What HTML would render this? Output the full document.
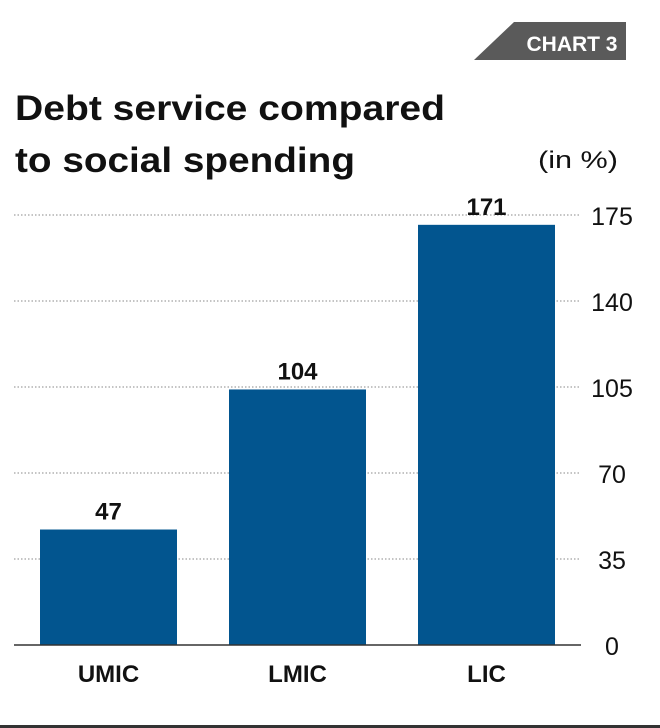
<!DOCTYPE html>
<html><head><meta charset="utf-8"><style>
html,body{margin:0;padding:0;background:#fff;}
svg{display:block;font-family:"Liberation Sans",sans-serif;}
</style></head><body>
<svg id="chart" width="660" height="728" viewBox="0 0 660 728">
  <polygon points="474,60 514,22 626,22 626,60" fill="#5a5a5a"/>
  <text x="572" y="51" fill="#fff" font-size="21" font-weight="bold" text-anchor="middle">CHART 3</text>
  <text x="15" y="120" font-size="35" font-weight="bold" fill="#111" textLength="430" lengthAdjust="spacingAndGlyphs">Debt service compared</text>
  <text x="15" y="172" font-size="35" font-weight="bold" fill="#111" textLength="340" lengthAdjust="spacingAndGlyphs">to social spending</text>
  <text x="538" y="168" font-size="24" fill="#111" textLength="80" lengthAdjust="spacingAndGlyphs">(in %)</text>
  <g id="grid"></g>
  <g id="bars"></g>
  <line x1="14" y1="645" x2="581" y2="645" stroke="#333" stroke-width="1.5"/>
  <rect x="0" y="725" width="660" height="3" fill="#333"/>
</svg>
<script>
const categories = ["UMIC","LMIC","LIC"];
const values = [47,104,171];
const ticks = [0,35,70,105,140,175];
const NS="http://www.w3.org/2000/svg";
const y0=645, yTop=215, vMax=175;
function y(v){return y0-(v/vMax)*(y0-yTop);}
const barX0=40, barStep=189, barW=137;
function x(i){return barX0+i*barStep;}
function mk(tag,attrs,parent){const e=document.createElementNS(NS,tag);for(const k in attrs)e.setAttribute(k,attrs[k]);parent.appendChild(e);return e;}
const grid=document.getElementById('grid');
ticks.forEach(t=>{
  if(t>0){
    const l=mk('line',{x1:14,x2:581,y1:y(t),y2:y(t),stroke:'#888','stroke-width':1,'stroke-dasharray':'1.5 2'},grid);
    
    
  }
  const tx=mk('text',{x:612,y:y(t)+10,'font-size':25,'text-anchor':'middle',fill:'#111'},grid);
  tx.textContent=t;
  
  
});
const bars=document.getElementById('bars');
categories.forEach((c,i)=>{
  const r=mk('rect',{x:x(i),y:y(values[i]),width:barW,height:y0-y(values[i]),fill:'#02558f'},bars);
  
  
  const v=mk('text',{x:x(i)+barW/2,y:y(values[i])-10,'font-size':24,'font-weight':'bold','text-anchor':'middle',fill:'#111'},bars);
  v.textContent=values[i];
  
  
  const cl=mk('text',{x:x(i)+barW/2,y:682,'font-size':24,'font-weight':'bold','text-anchor':'middle',fill:'#111'},bars);
  cl.textContent=c;
  
  
});
</script>
</body></html>
